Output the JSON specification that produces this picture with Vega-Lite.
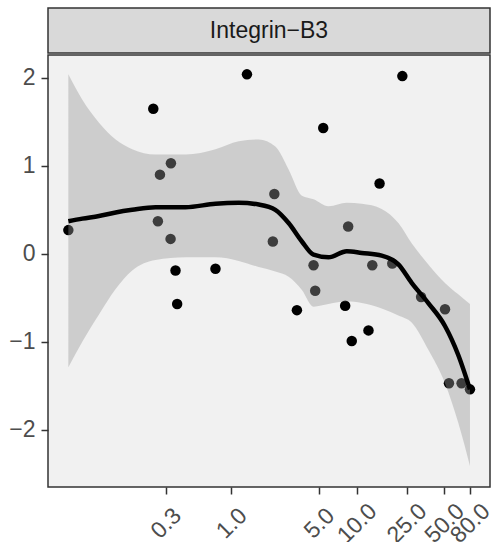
{
  "$schema": "https://vega.github.io/schema/vega-lite/v6.json",
  "padding": {"left": 8, "top": 7, "right": 0, "bottom": 0},
  "background": "white",
  "spacing": 0,
  "config": {
    "font": "Liberation Sans",
    "view": {"stroke": "#333333", "strokeWidth": 1.5},
    "axis": {
      "labelFont": "Liberation Sans",
      "labelFontSize": 23,
      "labelColor": "#4D4D4D",
      "tickColor": "#333333",
      "tickWidth": 1.5,
      "tickSize": 7,
      "domain": false,
      "grid": false,
      "title": null
    }
  },
  "datasets": {
    "strip": [{"panel": "Integrin−B3"}],
    "points": [
      {"x": 0.05, "y": 0.27},
      {"x": 0.238, "y": 1.65},
      {"x": 0.269, "y": 0.90},
      {"x": 0.329, "y": 1.03},
      {"x": 0.259, "y": 0.37},
      {"x": 0.327, "y": 0.17},
      {"x": 0.358, "y": -0.19},
      {"x": 0.369, "y": -0.57},
      {"x": 0.746, "y": -0.17},
      {"x": 1.33, "y": 2.04},
      {"x": 2.2, "y": 0.68},
      {"x": 2.14, "y": 0.14},
      {"x": 3.33, "y": -0.64},
      {"x": 4.52, "y": -0.13},
      {"x": 4.66, "y": -0.42},
      {"x": 5.4, "y": 1.43},
      {"x": 8.54, "y": 0.31},
      {"x": 8.08, "y": -0.59},
      {"x": 9.12, "y": -0.99},
      {"x": 12.4, "y": -0.87},
      {"x": 13.3, "y": -0.13},
      {"x": 15.2, "y": 0.80},
      {"x": 19.2, "y": -0.11},
      {"x": 23.1, "y": 2.02},
      {"x": 32.6, "y": -0.49},
      {"x": 50.6, "y": -0.63},
      {"x": 54.4, "y": -1.47},
      {"x": 68.6, "y": -1.47},
      {"x": 80, "y": -1.54}
    ],
    "smooth": [
      {"x": 0.05, "fit": 0.37, "lo": -1.29, "hi": 2.04},
      {"x": 0.0646, "fit": 0.40, "lo": -1.00, "hi": 1.75},
      {"x": 0.0878, "fit": 0.43, "lo": -0.69, "hi": 1.49},
      {"x": 0.1192, "fit": 0.47, "lo": -0.40, "hi": 1.30},
      {"x": 0.1616, "fit": 0.50, "lo": -0.19, "hi": 1.19},
      {"x": 0.2482, "fit": 0.53, "lo": -0.07, "hi": 1.13},
      {"x": 0.4302, "fit": 0.53, "lo": -0.04, "hi": 1.13},
      {"x": 0.7458, "fit": 0.57, "lo": -0.04, "hi": 1.19},
      {"x": 1.143, "fit": 0.58, "lo": -0.08, "hi": 1.28},
      {"x": 1.650, "fit": 0.56, "lo": -0.15, "hi": 1.30},
      {"x": 2.240, "fit": 0.50, "lo": -0.20, "hi": 1.22},
      {"x": 2.859, "fit": 0.35, "lo": -0.26, "hi": 0.96},
      {"x": 3.649, "fit": 0.14, "lo": -0.41, "hi": 0.66},
      {"x": 4.522, "fit": -0.01, "lo": -0.60, "hi": 0.62},
      {"x": 5.954, "fit": -0.04, "lo": -0.57, "hi": 0.54},
      {"x": 8.325, "fit": 0.03, "lo": -0.54, "hi": 0.58},
      {"x": 10.96, "fit": 0.01, "lo": -0.56, "hi": 0.57},
      {"x": 15.81, "fit": -0.02, "lo": -0.62, "hi": 0.51},
      {"x": 21.48, "fit": -0.12, "lo": -0.70, "hi": 0.35},
      {"x": 27.41, "fit": -0.33, "lo": -0.78, "hi": 0.12},
      {"x": 37.23, "fit": -0.56, "lo": -1.09, "hi": -0.12},
      {"x": 50.55, "fit": -0.82, "lo": -1.47, "hi": -0.33},
      {"x": 64.53, "fit": -1.15, "lo": -1.92, "hi": -0.46},
      {"x": 80, "fit": -1.54, "lo": -2.41, "hi": -0.57}
    ]
  },
  "vconcat": [
    {
      "width": 442,
      "height": 45,
      "view": {"fill": "#D9D9D9", "stroke": "#333333", "strokeWidth": 1.5},
      "data": {"name": "strip"},
      "mark": {"type": "text", "font": "Liberation Sans", "fontSize": 23, "color": "#1A1A1A", "baseline": "middle", "align": "center"},
      "encoding": {"text": {"field": "panel", "type": "nominal"}}
    },
    {
      "width": 442,
      "height": 432,
      "view": {"fill": "#F1F1F1", "stroke": "#333333", "strokeWidth": 1.5},
      "layer": [
        {
          "data": {"name": "points"},
          "mark": {"type": "circle", "size": 110, "color": "black", "opacity": 1},
          "encoding": {
            "x": {"field": "x", "type": "quantitative",
                  "scale": {"type": "log", "domain": [0.0344, 115.6], "nice": false},
                  "axis": {"values": [0.3, 1, 5, 10, 25, 50, 80], "format": ".1f", "labelAngle": -45, "labelAlign": "center", "labelBaseline": "middle", "labelPadding": 29, "labelOverlap": false, "labelFlush": false}},
            "y": {"field": "y", "type": "quantitative",
                  "scale": {"domain": [-2.65, 2.26], "nice": false, "zero": false},
                  "axis": {"values": [-2, -1, 0, 1, 2], "format": ".0f", "labelPadding": 6}}
          }
        },
        {
          "data": {"name": "smooth"},
          "mark": {"type": "area", "color": "#999999", "opacity": 0.4, "interpolate": "monotone"},
          "encoding": {
            "x": {"field": "x", "type": "quantitative"},
            "y": {"field": "lo", "type": "quantitative"},
            "y2": {"field": "hi"}
          }
        },
        {
          "data": {"name": "smooth"},
          "mark": {"type": "line", "color": "black", "strokeWidth": 4.5, "interpolate": "monotone"},
          "encoding": {
            "x": {"field": "x", "type": "quantitative"},
            "y": {"field": "fit", "type": "quantitative"}
          }
        }
      ]
    }
  ]
}
